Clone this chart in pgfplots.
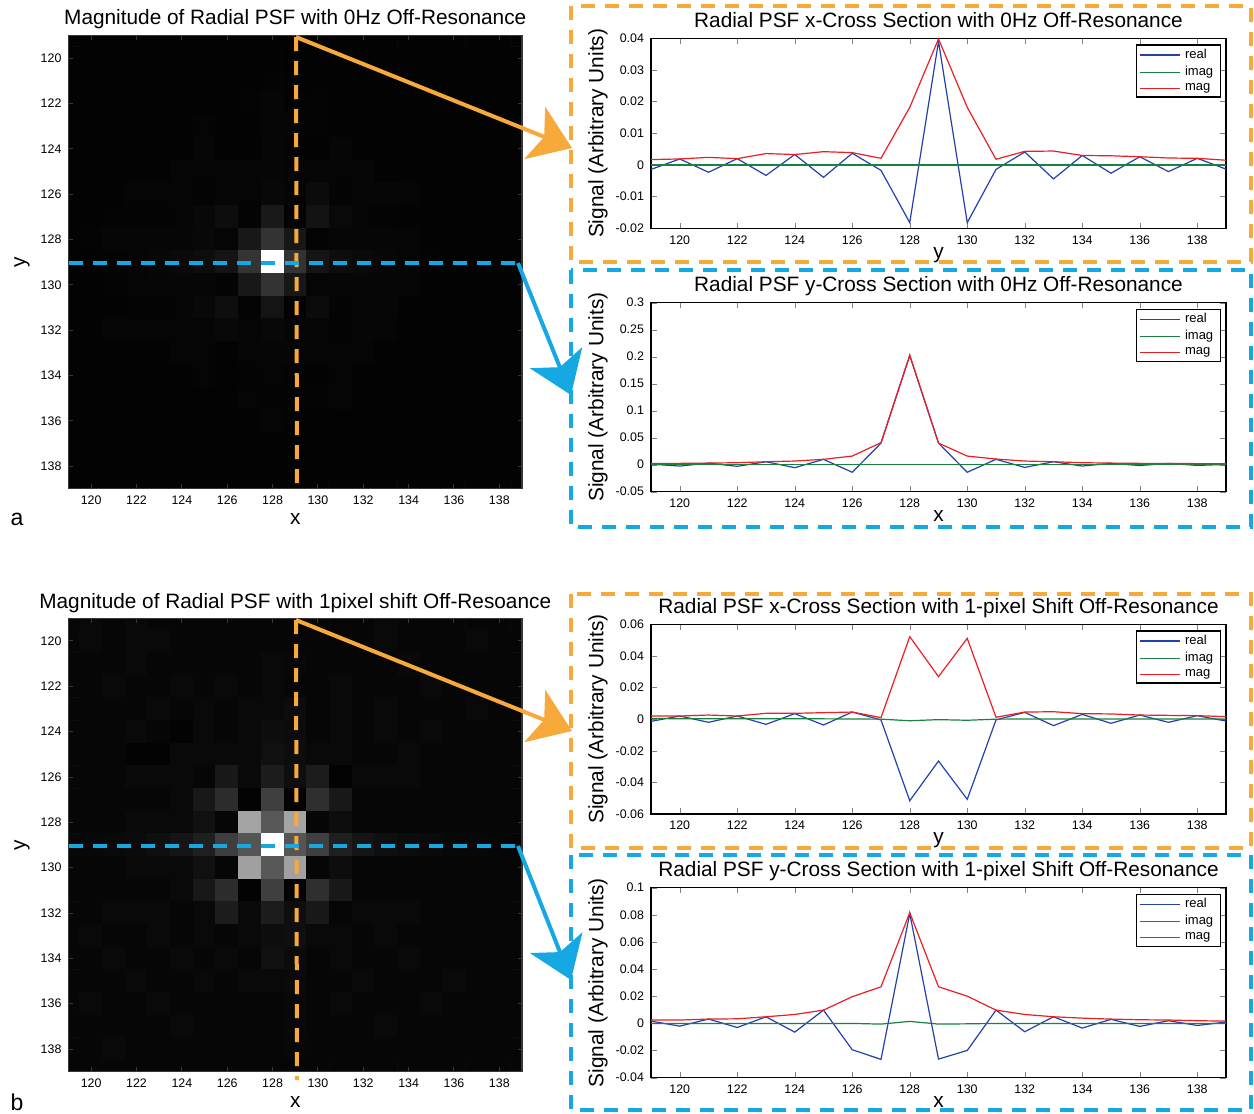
\documentclass[border=0pt]{standalone}
\usepackage{fontspec}
\setmainfont{Liberation Sans}
\usepackage{pgfplots}
\usepackage{pgfplotstable}
\pgfplotsset{compat=1.18}
\usetikzlibrary{arrows.meta}

\definecolor{mblue}{RGB}{35,65,170}
\definecolor{mgreen}{RGB}{25,130,65}
\definecolor{mred}{RGB}{235,30,35}
\definecolor{borange}{RGB}{247,169,59}
\definecolor{bcyan}{RGB}{22,168,226}
\definecolor{frame}{RGB}{55,55,55}

\newcommand{\tfont}{\fontsize{10.4}{12}\selectfont}
\newcommand{\lfont}{\fontsize{10.4}{12}\selectfont}
\newcommand{\kfont}{\fontsize{6.2}{7}\selectfont}

% magnitude images, x y |psf|
\pgfplotstableread[row sep=\\]{
x y z\\
119 119 0.002\\ 120 119 0.002\\ 121 119 0.002\\ 122 119 0.002\\ 123 119 0.002\\ 124 119 0.002\\ 125 119 0.002\\ 126 119 0.002\\ 127 119 0.002\\ 128 119 0.002\\ 129 119 0.0017\\ 130 119 0.002\\ 131 119 0.002\\ 132 119 0.002\\ 133 119 0.002\\ 134 119 0.002\\ 135 119 0.002\\ 136 119 0.002\\ 137 119 0.002\\ 138 119 0.002\\ 139 119 0.002\\
119 120 0.002\\ 120 120 0.002\\ 121 120 0.002\\ 122 120 0.002\\ 123 120 0.002\\ 124 120 0.002\\ 125 120 0.002\\ 126 120 0.002\\ 127 120 0.002\\ 128 120 0.002\\ 129 120 0.0019\\ 130 120 0.002\\ 131 120 0.002\\ 132 120 0.002\\ 133 120 0.002\\ 134 120 0.002\\ 135 120 0.002\\ 136 120 0.002\\ 137 120 0.002\\ 138 120 0.002\\ 139 120 0.002\\
119 121 0.002\\ 120 121 0.002\\ 121 121 0.002\\ 122 121 0.002\\ 123 121 0.002\\ 124 121 0.002\\ 125 121 0.002\\ 126 121 0.002\\ 127 121 0.002\\ 128 121 0.003\\ 129 121 0.0024\\ 130 121 0.002\\ 131 121 0.002\\ 132 121 0.002\\ 133 121 0.002\\ 134 121 0.002\\ 135 121 0.002\\ 136 121 0.002\\ 137 121 0.002\\ 138 121 0.002\\ 139 121 0.002\\
119 122 0.002\\ 120 122 0.002\\ 121 122 0.002\\ 122 122 0.002\\ 123 122 0.002\\ 124 122 0.002\\ 125 122 0.002\\ 126 122 0.002\\ 127 122 0.003\\ 128 122 0.005\\ 129 122 0.002\\ 130 122 0.003\\ 131 122 0.002\\ 132 122 0.002\\ 133 122 0.002\\ 134 122 0.002\\ 135 122 0.002\\ 136 122 0.002\\ 137 122 0.002\\ 138 122 0.002\\ 139 122 0.002\\
119 123 0.002\\ 120 123 0.002\\ 121 123 0.002\\ 122 123 0.002\\ 123 123 0.002\\ 124 123 0.002\\ 125 123 0.004\\ 126 123 0.002\\ 127 123 0.002\\ 128 123 0.004\\ 129 123 0.0036\\ 130 123 0.003\\ 131 123 0.002\\ 132 123 0.002\\ 133 123 0.002\\ 134 123 0.002\\ 135 123 0.002\\ 136 123 0.002\\ 137 123 0.002\\ 138 123 0.002\\ 139 123 0.002\\
119 124 0.002\\ 120 124 0.002\\ 121 124 0.002\\ 122 124 0.002\\ 123 124 0.002\\ 124 124 0.002\\ 125 124 0.005\\ 126 124 0.002\\ 127 124 0.002\\ 128 124 0.005\\ 129 124 0.0033\\ 130 124 0.002\\ 131 124 0.005\\ 132 124 0.002\\ 133 124 0.002\\ 134 124 0.002\\ 135 124 0.002\\ 136 124 0.002\\ 137 124 0.002\\ 138 124 0.002\\ 139 124 0.002\\
119 125 0.002\\ 120 125 0.002\\ 121 125 0.002\\ 122 125 0.002\\ 123 125 0.002\\ 124 125 0.004\\ 125 125 0.004\\ 126 125 0.004\\ 127 125 0.004\\ 128 125 0.005\\ 129 125 0.0042\\ 130 125 0.004\\ 131 125 0.004\\ 132 125 0.005\\ 133 125 0.002\\ 134 125 0.002\\ 135 125 0.002\\ 136 125 0.002\\ 137 125 0.002\\ 138 125 0.002\\ 139 125 0.002\\
119 126 0.002\\ 120 126 0.002\\ 121 126 0.002\\ 122 126 0.004\\ 123 126 0.004\\ 124 126 0.004\\ 125 126 0.003\\ 126 126 0.005\\ 127 126 0.004\\ 128 126 0.006\\ 129 126 0.0039\\ 130 126 0.009\\ 131 126 0.003\\ 132 126 0.005\\ 133 126 0.005\\ 134 126 0.004\\ 135 126 0.002\\ 136 126 0.002\\ 137 126 0.002\\ 138 126 0.002\\ 139 126 0.002\\
119 127 0.002\\ 120 127 0.002\\ 121 127 0.003\\ 122 127 0.003\\ 123 127 0.003\\ 124 127 0.004\\ 125 127 0.006\\ 126 127 0.010\\ 127 127 0.003\\ 128 127 0.020\\ 129 127 0.0021\\ 130 127 0.015\\ 131 127 0.007\\ 132 127 0.004\\ 133 127 0.003\\ 134 127 0.002\\ 135 127 0.002\\ 136 127 0.002\\ 137 127 0.002\\ 138 127 0.002\\ 139 127 0.002\\
119 128 0.002\\ 120 128 0.003\\ 121 128 0.005\\ 122 128 0.005\\ 123 128 0.005\\ 124 128 0.005\\ 125 128 0.006\\ 126 128 0.004\\ 127 128 0.019\\ 128 128 0.040\\ 129 128 0.0182\\ 130 128 0.003\\ 131 128 0.005\\ 132 128 0.005\\ 133 128 0.005\\ 134 128 0.004\\ 135 128 0.002\\ 136 128 0.002\\ 137 128 0.002\\ 138 128 0.002\\ 139 128 0.002\\
119 129 0.0025\\ 120 129 0.0025\\ 121 129 0.003\\ 122 129 0.0037\\ 123 129 0.0055\\ 124 129 0.0068\\ 125 129 0.010\\ 126 129 0.016\\ 127 129 0.0408\\ 128 129 0.203\\ 129 129 0.040\\ 130 129 0.016\\ 131 129 0.0105\\ 132 129 0.0068\\ 133 129 0.0055\\ 134 129 0.0037\\ 135 129 0.003\\ 136 129 0.0025\\ 137 129 0.002\\ 138 129 0.002\\ 139 129 0.002\\
119 130 0.002\\ 120 130 0.002\\ 121 130 0.003\\ 122 130 0.004\\ 123 130 0.005\\ 124 130 0.005\\ 125 130 0.005\\ 126 130 0.003\\ 127 130 0.019\\ 128 130 0.040\\ 129 130 0.0182\\ 130 130 0.004\\ 131 130 0.005\\ 132 130 0.005\\ 133 130 0.004\\ 134 130 0.004\\ 135 130 0.002\\ 136 130 0.002\\ 137 130 0.002\\ 138 130 0.002\\ 139 130 0.002\\
119 131 0.002\\ 120 131 0.002\\ 121 131 0.002\\ 122 131 0.003\\ 123 131 0.003\\ 124 131 0.004\\ 125 131 0.006\\ 126 131 0.011\\ 127 131 0.003\\ 128 131 0.016\\ 129 131 0.0018\\ 130 131 0.009\\ 131 131 0.003\\ 132 131 0.005\\ 133 131 0.005\\ 134 131 0.002\\ 135 131 0.002\\ 136 131 0.002\\ 137 131 0.002\\ 138 131 0.002\\ 139 131 0.002\\
119 132 0.002\\ 120 132 0.002\\ 121 132 0.004\\ 122 132 0.004\\ 123 132 0.004\\ 124 132 0.004\\ 125 132 0.004\\ 126 132 0.006\\ 127 132 0.004\\ 128 132 0.006\\ 129 132 0.0043\\ 130 132 0.005\\ 131 132 0.003\\ 132 132 0.005\\ 133 132 0.004\\ 134 132 0.002\\ 135 132 0.002\\ 136 132 0.002\\ 137 132 0.002\\ 138 132 0.002\\ 139 132 0.002\\
119 133 0.002\\ 120 133 0.002\\ 121 133 0.002\\ 122 133 0.002\\ 123 133 0.002\\ 124 133 0.004\\ 125 133 0.004\\ 126 133 0.002\\ 127 133 0.004\\ 128 133 0.005\\ 129 133 0.0044\\ 130 133 0.004\\ 131 133 0.004\\ 132 133 0.004\\ 133 133 0.002\\ 134 133 0.002\\ 135 133 0.002\\ 136 133 0.002\\ 137 133 0.002\\ 138 133 0.002\\ 139 133 0.002\\
119 134 0.002\\ 120 134 0.002\\ 121 134 0.002\\ 122 134 0.002\\ 123 134 0.002\\ 124 134 0.002\\ 125 134 0.004\\ 126 134 0.002\\ 127 134 0.003\\ 128 134 0.004\\ 129 134 0.003\\ 130 134 0.002\\ 131 134 0.004\\ 132 134 0.002\\ 133 134 0.002\\ 134 134 0.002\\ 135 134 0.002\\ 136 134 0.002\\ 137 134 0.002\\ 138 134 0.002\\ 139 134 0.002\\
119 135 0.002\\ 120 135 0.002\\ 121 135 0.002\\ 122 135 0.002\\ 123 135 0.002\\ 124 135 0.002\\ 125 135 0.002\\ 126 135 0.002\\ 127 135 0.004\\ 128 135 0.003\\ 129 135 0.0029\\ 130 135 0.003\\ 131 135 0.005\\ 132 135 0.002\\ 133 135 0.002\\ 134 135 0.002\\ 135 135 0.002\\ 136 135 0.002\\ 137 135 0.002\\ 138 135 0.002\\ 139 135 0.002\\
119 136 0.002\\ 120 136 0.002\\ 121 136 0.002\\ 122 136 0.002\\ 123 136 0.002\\ 124 136 0.002\\ 125 136 0.002\\ 126 136 0.002\\ 127 136 0.002\\ 128 136 0.004\\ 129 136 0.0026\\ 130 136 0.002\\ 131 136 0.002\\ 132 136 0.002\\ 133 136 0.002\\ 134 136 0.002\\ 135 136 0.002\\ 136 136 0.002\\ 137 136 0.002\\ 138 136 0.002\\ 139 136 0.002\\
119 137 0.002\\ 120 137 0.002\\ 121 137 0.002\\ 122 137 0.002\\ 123 137 0.002\\ 124 137 0.002\\ 125 137 0.002\\ 126 137 0.002\\ 127 137 0.002\\ 128 137 0.002\\ 129 137 0.0022\\ 130 137 0.002\\ 131 137 0.002\\ 132 137 0.002\\ 133 137 0.002\\ 134 137 0.002\\ 135 137 0.002\\ 136 137 0.002\\ 137 137 0.002\\ 138 137 0.002\\ 139 137 0.002\\
119 138 0.002\\ 120 138 0.002\\ 121 138 0.002\\ 122 138 0.002\\ 123 138 0.002\\ 124 138 0.002\\ 125 138 0.002\\ 126 138 0.002\\ 127 138 0.002\\ 128 138 0.002\\ 129 138 0.0021\\ 130 138 0.002\\ 131 138 0.002\\ 132 138 0.002\\ 133 138 0.002\\ 134 138 0.002\\ 135 138 0.002\\ 136 138 0.002\\ 137 138 0.002\\ 138 138 0.002\\ 139 138 0.002\\
119 139 0.002\\ 120 139 0.002\\ 121 139 0.002\\ 122 139 0.002\\ 123 139 0.002\\ 124 139 0.002\\ 125 139 0.002\\ 126 139 0.002\\ 127 139 0.002\\ 128 139 0.002\\ 129 139 0.0015\\ 130 139 0.002\\ 131 139 0.002\\ 132 139 0.002\\ 133 139 0.002\\ 134 139 0.002\\ 135 139 0.002\\ 136 139 0.002\\ 137 139 0.002\\ 138 139 0.002\\ 139 139 0.002\\
}\imgA

\pgfplotstableread[row sep=\\]{
x y z\\
119 119 0.002\\ 120 119 0.003\\ 121 119 0.002\\ 122 119 0.003\\ 123 119 0.002\\ 124 119 0.002\\ 125 119 0.002\\ 126 119 0.002\\ 127 119 0.002\\ 128 119 0.002\\ 129 119 0.002\\ 130 119 0.002\\ 131 119 0.002\\ 132 119 0.002\\ 133 119 0.003\\ 134 119 0.002\\ 135 119 0.002\\ 136 119 0.002\\ 137 119 0.002\\ 138 119 0.002\\ 139 119 0.002\\
119 120 0.002\\ 120 120 0.003\\ 121 120 0.002\\ 122 120 0.003\\ 123 120 0.003\\ 124 120 0.002\\ 125 120 0.002\\ 126 120 0.002\\ 127 120 0.002\\ 128 120 0.002\\ 129 120 0.002\\ 130 120 0.002\\ 131 120 0.002\\ 132 120 0.002\\ 133 120 0.003\\ 134 120 0.002\\ 135 120 0.002\\ 136 120 0.002\\ 137 120 0.003\\ 138 120 0.002\\ 139 120 0.002\\
119 121 0.002\\ 120 121 0.002\\ 121 121 0.002\\ 122 121 0.003\\ 123 121 0.002\\ 124 121 0.002\\ 125 121 0.002\\ 126 121 0.002\\ 127 121 0.002\\ 128 121 0.003\\ 129 121 0.0026\\ 130 121 0.002\\ 131 121 0.002\\ 132 121 0.002\\ 133 121 0.002\\ 134 121 0.003\\ 135 121 0.002\\ 136 121 0.002\\ 137 121 0.002\\ 138 121 0.002\\ 139 121 0.002\\
119 122 0.002\\ 120 122 0.002\\ 121 122 0.003\\ 122 122 0.002\\ 123 122 0.002\\ 124 122 0.003\\ 125 122 0.002\\ 126 122 0.003\\ 127 122 0.002\\ 128 122 0.003\\ 129 122 0.002\\ 130 122 0.002\\ 131 122 0.003\\ 132 122 0.002\\ 133 122 0.002\\ 134 122 0.002\\ 135 122 0.003\\ 136 122 0.002\\ 137 122 0.002\\ 138 122 0.002\\ 139 122 0.002\\
119 123 0.002\\ 120 123 0.002\\ 121 123 0.002\\ 122 123 0.002\\ 123 123 0.003\\ 124 123 0.002\\ 125 123 0.003\\ 126 123 0.002\\ 127 123 0.003\\ 128 123 0.003\\ 129 123 0.0037\\ 130 123 0.002\\ 131 123 0.003\\ 132 123 0.002\\ 133 123 0.003\\ 134 123 0.002\\ 135 123 0.002\\ 136 123 0.002\\ 137 123 0.003\\ 138 123 0.002\\ 139 123 0.002\\
119 124 0.002\\ 120 124 0.002\\ 121 124 0.002\\ 122 124 0.003\\ 123 124 0.002\\ 124 124 0.001\\ 125 124 0.003\\ 126 124 0.002\\ 127 124 0.003\\ 128 124 0.004\\ 129 124 0.0037\\ 130 124 0.002\\ 131 124 0.003\\ 132 124 0.002\\ 133 124 0.003\\ 134 124 0.002\\ 135 124 0.003\\ 136 124 0.002\\ 137 124 0.002\\ 138 124 0.002\\ 139 124 0.002\\
119 125 0.002\\ 120 125 0.002\\ 121 125 0.002\\ 122 125 0.001\\ 123 125 0.001\\ 124 125 0.003\\ 125 125 0.003\\ 126 125 0.003\\ 127 125 0.003\\ 128 125 0.005\\ 129 125 0.0041\\ 130 125 0.003\\ 131 125 0.003\\ 132 125 0.002\\ 133 125 0.002\\ 134 125 0.003\\ 135 125 0.002\\ 136 125 0.002\\ 137 125 0.002\\ 138 125 0.002\\ 139 125 0.002\\
119 126 0.002\\ 120 126 0.002\\ 121 126 0.002\\ 122 126 0.003\\ 123 126 0.003\\ 124 126 0.003\\ 125 126 0.002\\ 126 126 0.0075\\ 127 126 0.003\\ 128 126 0.009\\ 129 126 0.0045\\ 130 126 0.009\\ 131 126 0.001\\ 132 126 0.003\\ 133 126 0.003\\ 134 126 0.003\\ 135 126 0.002\\ 136 126 0.002\\ 137 126 0.002\\ 138 126 0.002\\ 139 126 0.002\\
119 127 0.002\\ 120 127 0.002\\ 121 127 0.002\\ 122 127 0.002\\ 123 127 0.002\\ 124 127 0.003\\ 125 127 0.0075\\ 126 127 0.014\\ 127 127 0.001\\ 128 127 0.020\\ 129 127 0.001\\ 130 127 0.015\\ 131 127 0.0075\\ 132 127 0.002\\ 133 127 0.002\\ 134 127 0.002\\ 135 127 0.002\\ 136 127 0.002\\ 137 127 0.002\\ 138 127 0.002\\ 139 127 0.002\\
119 128 0.002\\ 120 128 0.002\\ 121 128 0.002\\ 122 128 0.003\\ 123 128 0.003\\ 124 128 0.003\\ 125 128 0.005\\ 126 128 0.002\\ 127 128 0.052\\ 128 128 0.028\\ 129 128 0.0522\\ 130 128 0.002\\ 131 128 0.004\\ 132 128 0.002\\ 133 128 0.002\\ 134 128 0.002\\ 135 128 0.002\\ 136 128 0.002\\ 137 128 0.002\\ 138 128 0.002\\ 139 128 0.002\\
119 129 0.0025\\ 120 129 0.0025\\ 121 129 0.003\\ 122 129 0.0034\\ 123 129 0.0049\\ 124 129 0.0066\\ 125 129 0.0098\\ 126 129 0.0197\\ 127 129 0.027\\ 128 129 0.0816\\ 129 129 0.027\\ 130 129 0.0201\\ 131 129 0.0098\\ 132 129 0.0066\\ 133 129 0.0049\\ 134 129 0.0039\\ 135 129 0.0032\\ 136 129 0.0027\\ 137 129 0.0025\\ 138 129 0.002\\ 139 129 0.0017\\
119 130 0.002\\ 120 130 0.002\\ 121 130 0.002\\ 122 130 0.003\\ 123 130 0.003\\ 124 130 0.003\\ 125 130 0.005\\ 126 130 0.002\\ 127 130 0.051\\ 128 130 0.028\\ 129 130 0.0511\\ 130 130 0.002\\ 131 130 0.004\\ 132 130 0.002\\ 133 130 0.002\\ 134 130 0.002\\ 135 130 0.002\\ 136 130 0.002\\ 137 130 0.002\\ 138 130 0.002\\ 139 130 0.002\\
119 131 0.002\\ 120 131 0.002\\ 121 131 0.002\\ 122 131 0.002\\ 123 131 0.002\\ 124 131 0.003\\ 125 131 0.0075\\ 126 131 0.014\\ 127 131 0.001\\ 128 131 0.020\\ 129 131 0.0012\\ 130 131 0.015\\ 131 131 0.0075\\ 132 131 0.002\\ 133 131 0.002\\ 134 131 0.002\\ 135 131 0.002\\ 136 131 0.002\\ 137 131 0.002\\ 138 131 0.002\\ 139 131 0.002\\
119 132 0.002\\ 120 132 0.002\\ 121 132 0.003\\ 122 132 0.003\\ 123 132 0.003\\ 124 132 0.002\\ 125 132 0.003\\ 126 132 0.009\\ 127 132 0.003\\ 128 132 0.009\\ 129 132 0.0045\\ 130 132 0.0075\\ 131 132 0.002\\ 132 132 0.003\\ 133 132 0.003\\ 134 132 0.003\\ 135 132 0.002\\ 136 132 0.002\\ 137 132 0.002\\ 138 132 0.002\\ 139 132 0.002\\
119 133 0.002\\ 120 133 0.003\\ 121 133 0.002\\ 122 133 0.002\\ 123 133 0.003\\ 124 133 0.002\\ 125 133 0.003\\ 126 133 0.002\\ 127 133 0.003\\ 128 133 0.004\\ 129 133 0.0047\\ 130 133 0.003\\ 131 133 0.003\\ 132 133 0.002\\ 133 133 0.003\\ 134 133 0.002\\ 135 133 0.002\\ 136 133 0.002\\ 137 133 0.002\\ 138 133 0.002\\ 139 133 0.002\\
119 134 0.002\\ 120 134 0.002\\ 121 134 0.003\\ 122 134 0.002\\ 123 134 0.002\\ 124 134 0.003\\ 125 134 0.002\\ 126 134 0.003\\ 127 134 0.002\\ 128 134 0.005\\ 129 134 0.0035\\ 130 134 0.002\\ 131 134 0.003\\ 132 134 0.002\\ 133 134 0.002\\ 134 134 0.003\\ 135 134 0.002\\ 136 134 0.002\\ 137 134 0.002\\ 138 134 0.002\\ 139 134 0.002\\
119 135 0.002\\ 120 135 0.002\\ 121 135 0.002\\ 122 135 0.003\\ 123 135 0.002\\ 124 135 0.002\\ 125 135 0.003\\ 126 135 0.002\\ 127 135 0.003\\ 128 135 0.003\\ 129 135 0.0033\\ 130 135 0.002\\ 131 135 0.002\\ 132 135 0.003\\ 133 135 0.002\\ 134 135 0.002\\ 135 135 0.002\\ 136 135 0.003\\ 137 135 0.002\\ 138 135 0.002\\ 139 135 0.002\\
119 136 0.002\\ 120 136 0.003\\ 121 136 0.002\\ 122 136 0.002\\ 123 136 0.003\\ 124 136 0.002\\ 125 136 0.002\\ 126 136 0.002\\ 127 136 0.002\\ 128 136 0.002\\ 129 136 0.0026\\ 130 136 0.002\\ 131 136 0.003\\ 132 136 0.002\\ 133 136 0.002\\ 134 136 0.002\\ 135 136 0.003\\ 136 136 0.002\\ 137 136 0.002\\ 138 136 0.002\\ 139 136 0.002\\
119 137 0.002\\ 120 137 0.002\\ 121 137 0.002\\ 122 137 0.002\\ 123 137 0.002\\ 124 137 0.003\\ 125 137 0.002\\ 126 137 0.002\\ 127 137 0.002\\ 128 137 0.002\\ 129 137 0.0024\\ 130 137 0.002\\ 131 137 0.002\\ 132 137 0.002\\ 133 137 0.003\\ 134 137 0.002\\ 135 137 0.002\\ 136 137 0.002\\ 137 137 0.002\\ 138 137 0.002\\ 139 137 0.002\\
119 138 0.002\\ 120 138 0.002\\ 121 138 0.003\\ 122 138 0.002\\ 123 138 0.002\\ 124 138 0.002\\ 125 138 0.002\\ 126 138 0.002\\ 127 138 0.002\\ 128 138 0.002\\ 129 138 0.0022\\ 130 138 0.002\\ 131 138 0.002\\ 132 138 0.002\\ 133 138 0.002\\ 134 138 0.002\\ 135 138 0.002\\ 136 138 0.002\\ 137 138 0.002\\ 138 138 0.002\\ 139 138 0.002\\
119 139 0.002\\ 120 139 0.002\\ 121 139 0.002\\ 122 139 0.002\\ 123 139 0.002\\ 124 139 0.002\\ 125 139 0.002\\ 126 139 0.002\\ 127 139 0.002\\ 128 139 0.002\\ 129 139 0.0016\\ 130 139 0.002\\ 131 139 0.002\\ 132 139 0.002\\ 133 139 0.002\\ 134 139 0.002\\ 135 139 0.002\\ 136 139 0.002\\ 137 139 0.002\\ 138 139 0.002\\ 139 139 0.002\\
}\imgB

% cross sections: position, real, imag, magnitude
\pgfplotstableread{
x re im mag
119 -0.0014 0 0.0017
120 0.0019 0 0.0019
121 -0.0023 0 0.0024
122 0.0020 0 0.0020
123 -0.0033 0 0.0036
124 0.0033 0 0.0033
125 -0.0039 0 0.0042
126 0.0037 0 0.0039
127 -0.0017 0 0.0021
128 -0.0182 0 0.0182
129 0.0390 0 0.0398
130 -0.0182 0 0.0182
131 -0.0014 0 0.0018
132 0.0041 0 0.0043
133 -0.0044 0 0.0044
134 0.0030 0 0.0030
135 -0.0026 0 0.0029
136 0.0026 0 0.0026
137 -0.0021 0 0.0022
138 0.0021 0 0.0021
139 -0.0013 0 0.0015
}\cutA

\pgfplotstableread{
x re im mag
119 0.0010 0 0.0025
120 -0.0025 0 0.0025
121 0.0030 0 0.0030
122 -0.0030 0 0.0037
123 0.0055 0 0.0055
124 -0.0055 0 0.0068
125 0.0099 0 0.0100
126 -0.0140 0 0.0160
127 0.0400 0 0.0408
128 0.2020 0 0.2030
129 0.0400 0 0.0400
130 -0.0140 0 0.0160
131 0.0100 0 0.0105
132 -0.0050 0 0.0068
133 0.0055 0 0.0055
134 -0.0025 0 0.0037
135 0.0025 0 0.0030
136 -0.0015 0 0.0025
137 0.0025 0 0.0025
138 -0.0013 0 0.0020
139 0.0005 0 0.0020
}\cutB

\pgfplotstableread{
x re im mag
119 -0.0014 0.0005 0.0020
120 0.0020 0.0002 0.0020
121 -0.0020 0.0002 0.0026
122 0.0020 0.0002 0.0020
123 -0.0033 0.0002 0.0037
124 0.0035 0.0002 0.0037
125 -0.0037 0.0002 0.0041
126 0.0045 0.0001 0.0045
127 -0.0005 0 0.0010
128 -0.0516 -0.0010 0.0522
129 -0.0265 -0.0003 0.0269
130 -0.0507 -0.0007 0.0511
131 -0.0005 0 0.0012
132 0.0043 0.0001 0.0045
133 -0.0041 0.0001 0.0047
134 0.0030 0.0001 0.0035
135 -0.0026 0.0001 0.0033
136 0.0026 0.0001 0.0026
137 -0.0020 0.0001 0.0024
138 0.0022 0.0001 0.0022
139 -0.0012 0.0001 0.0016
}\cutC

\pgfplotstableread{
x re im mag
119 0.0017 0 0.0025
120 -0.0020 0 0.0025
121 0.0032 0 0.0032
122 -0.0030 0 0.0034
123 0.0049 0 0.0049
124 -0.0064 0 0.0066
125 0.0098 0 0.0098
126 -0.0194 0 0.0197
127 -0.0265 -0.0005 0.0270
128 0.0810 0.0015 0.0816
129 -0.0263 -0.0005 0.0270
130 -0.0199 -0.0003 0.0201
131 0.0098 0 0.0098
132 -0.0061 0 0.0066
133 0.0049 0 0.0049
134 -0.0034 0 0.0039
135 0.0030 0 0.0032
136 -0.0022 0 0.0027
137 0.0020 0 0.0025
138 -0.0015 0 0.0020
139 0.0010 0 0.0017
}\cutD

\pgfplotsset{
  common/.style={
    scale only axis, anchor=north west,
    xmin=119, xmax=139, xtick={120,122,...,138},
    tick align=inside,
    ticklabel style={font=\kfont},
    /pgf/number format/assume math mode=true,
    title style={font=\tfont, at={(0.5,1)}, anchor=base, yshift=-0.5pt},
    label style={font=\lfont},
  },
  psfimg/.style={common, width=226.75pt, height=226.7pt,
    ymin=119, ymax=139, y dir=reverse, ytick={120,122,...,138},
    axis line style={frame, line width=0.6pt},
    major tick style={frame, line width=0.5pt}, major tick length=2.2pt,
    colormap/blackwhite, point meta min=0, axis on top,
    xlabel={x}, ylabel={y},
    xlabel style={at={(axis description cs:0.5,-0.079)}, anchor=base},
    ylabel style={at={(axis description cs:-0.1025,0.5)}, anchor=center},
  },
  psfcut/.style={common, width=287.5pt,
    axis line style={line width=0.6pt}, major tick length=2.8pt,
    scaled y ticks=false,
    yticklabel style={/pgf/number format/fixed, /pgf/number format/precision=2},
    ylabel={Signal (Arbitrary Units)},
    ylabel style={at={(axis description cs:-0.092,0.5)}, anchor=center},
    xlabel style={at={(axis description cs:0.5,-0.158)}, anchor=base},
    legend style={at={(0.991,0.968)}, anchor=north east,
      font=\fontsize{6.5}{7.5}\selectfont, draw=black, line width=0.6pt,
      inner xsep=1.5pt, inner ysep=0.7pt, row sep=0pt,
      nodes={inner xsep=2pt, inner ysep=1.2pt}, cells={anchor=west}},
    legend image code/.code={\draw[#1, line width=0.7pt] (0pt,0pt) -- (20pt,0pt);},
  },
}

\begin{document}
\begin{tikzpicture}
\useasboundingbox (0pt,0pt) rectangle (627pt,-557pt);

% ---- a: 0 Hz ----
\begin{axis}[psfimg, at={(34.25pt,-17.7pt)},
  title={Magnitude of Radial PSF with 0Hz Off-Resonance}]
\addplot[matrix plot*, mesh/cols=21, point meta=explicit] table[meta=z] {\imgA};
\end{axis}

\begin{axis}[psfcut, at={(325.5pt,-19.15pt)}, height=95pt,
  ymin=-0.02, ymax=0.04, ytick={-0.02,-0.01,0,0.01,0.02,0.03,0.04},
  title={Radial PSF x-Cross Section with 0Hz Off-Resonance}, xlabel={y}]
\addplot[mblue, line width=0.6pt] table[x=x, y=re] {\cutA};
\addplot[mgreen, line width=0.6pt] table[x=x, y=im] {\cutA};
\addplot[mred, line width=0.6pt] table[x=x, y=mag] {\cutA};
\legend{real,imag,mag}
\end{axis}

\begin{axis}[psfcut, at={(325.5pt,-151.35pt)}, height=94.5pt,
  ymin=-0.05, ymax=0.3, ytick={-0.05,0,0.05,0.1,0.15,0.2,0.25,0.3},
  title={Radial PSF y-Cross Section with 0Hz Off-Resonance}, xlabel={x}]
\addplot[mblue, line width=0.6pt] table[x=x, y=re] {\cutB};
\addplot[mgreen, line width=0.6pt] table[x=x, y=im] {\cutB};
\addplot[mred, line width=0.6pt] table[x=x, y=mag] {\cutB};
\legend{real,imag,mag}
\end{axis}

% ---- b: 1 pixel shift ----
\begin{axis}[psfimg, at={(34.25pt,-309.15pt)},
  title={Magnitude of Radial PSF with 1pixel shift Off-Resoance},
  title style={yshift=-0.8pt}]
\addplot[matrix plot*, mesh/cols=21, point meta=explicit] table[meta=z] {\imgB};
\end{axis}

\begin{axis}[psfcut, at={(325.5pt,-312.15pt)}, height=94.85pt,
  ymin=-0.06, ymax=0.06, ytick={-0.06,-0.04,-0.02,0,0.02,0.04,0.06},
  title={Radial PSF x-Cross Section with 1-pixel Shift Off-Resonance}, xlabel={y}]
\addplot[mblue, line width=0.6pt] table[x=x, y=re] {\cutC};
\addplot[mgreen, line width=0.6pt] table[x=x, y=im] {\cutC};
\addplot[mred, line width=0.6pt] table[x=x, y=mag] {\cutC};
\legend{real,imag,mag}
\end{axis}

\begin{axis}[psfcut, at={(325.5pt,-443.85pt)}, height=95pt,
  ymin=-0.04, ymax=0.1, ytick={-0.04,-0.02,0,0.02,0.04,0.06,0.08,0.1},
  title={Radial PSF y-Cross Section with 1-pixel Shift Off-Resonance}, xlabel={x}]
\addplot[mblue, line width=0.6pt] table[x=x, y=re] {\cutD};
\addplot[mgreen, line width=0.6pt] table[x=x, y=im] {\cutD};
\addplot[mred, line width=0.6pt] table[x=x, y=mag] {\cutD};
\legend{real,imag,mag}
\end{axis}

% ---- annotation overlay, in reference pixels ----
\begin{scope}[x=0.5pt, y=-0.5pt, line width=2pt]
  \tikzset{dsh/.style={dash pattern=on 7pt off 5pt}}
  \draw[borange, dsh] (571,6) rectangle (1251,262);
  \draw[bcyan, dsh] (571,270) rectangle (1251,527);
  \draw[borange, dsh] (571,594) rectangle (1251,848);
  \draw[bcyan, dsh] (571,855) rectangle (1251,1110);

  \draw[borange, dsh] (296,37) -- (297,489);
  \draw[bcyan, dsh] (69,263) -- (518,263);
  \draw[borange, -{Stealth[length=20pt, width=28pt, inset=5pt]}] (296,37) -- (572,148);
  \draw[bcyan, -{Stealth[length=20pt, width=28pt, inset=5pt]}] (518,263) -- (571,395);

  \draw[borange, dsh] (296,620) -- (297,1080);
  \draw[bcyan, dsh] (69,846) -- (518,846);
  \draw[borange, -{Stealth[length=20pt, width=28pt, inset=5pt]}] (296,620) -- (572,731);
  \draw[bcyan, -{Stealth[length=20pt, width=28pt, inset=5pt]}] (518,846) -- (571,980);

  \node[anchor=base, font=\fontsize{11.5}{13}\selectfont] at (17,525) {a};
  \node[anchor=base, font=\fontsize{11.5}{13}\selectfont] at (17,1110) {b};
\end{scope}
\end{tikzpicture}
\end{document}
